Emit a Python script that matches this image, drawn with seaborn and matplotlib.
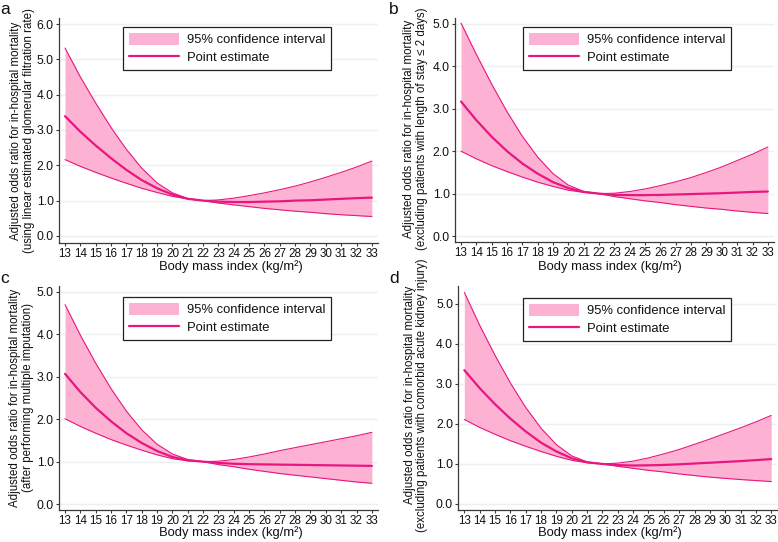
import matplotlib
matplotlib.use("Agg")
import matplotlib.pyplot as plt
import seaborn as sns
import pandas as pd
from matplotlib.patches import Patch
from matplotlib.lines import Line2D

# ---------------- data ----------------
bmi = list(range(13, 34))

a_point = [3.39, 2.95, 2.56, 2.20, 1.87, 1.58, 1.35, 1.17, 1.05, 1.00,
           0.97, 0.96, 0.96, 0.97, 0.98, 1.00, 1.01, 1.03, 1.05, 1.07, 1.085]
a_upper = [5.32, 4.50, 3.76, 3.07, 2.45, 1.92, 1.50, 1.22, 1.06, 1.00,
           1.02, 1.07, 1.14, 1.22, 1.31, 1.41, 1.53, 1.66, 1.80, 1.95, 2.12]
a_lower = [2.16, 1.97, 1.80, 1.64, 1.49, 1.35, 1.23, 1.12, 1.05, 1.00,
           0.93, 0.88, 0.83, 0.78, 0.74, 0.70, 0.67, 0.63, 0.60, 0.575, 0.55]

b_point = [3.17, 2.73, 2.34, 2.00, 1.71, 1.47, 1.27, 1.13, 1.04, 1.00,
           0.97, 0.965, 0.965, 0.97, 0.98, 0.99, 1.00, 1.01, 1.025, 1.04, 1.05]
b_upper = [5.02, 4.28, 3.58, 2.93, 2.35, 1.86, 1.47, 1.20, 1.05, 1.00,
           1.01, 1.05, 1.11, 1.19, 1.28, 1.38, 1.50, 1.63, 1.78, 1.93, 2.10]
b_lower = [2.00, 1.82, 1.66, 1.52, 1.39, 1.27, 1.17, 1.08, 1.03, 1.00,
           0.93, 0.88, 0.83, 0.79, 0.74, 0.70, 0.66, 0.63, 0.59, 0.56, 0.53]

c_point = [3.07, 2.64, 2.27, 1.95, 1.67, 1.44, 1.25, 1.11, 1.03, 1.00,
           0.97, 0.95, 0.94, 0.935, 0.93, 0.925, 0.92, 0.915, 0.91, 0.905, 0.90]
c_upper = [4.70, 3.98, 3.32, 2.72, 2.19, 1.75, 1.41, 1.18, 1.05, 1.00,
           1.01, 1.05, 1.11, 1.18, 1.26, 1.33, 1.40, 1.47, 1.54, 1.61, 1.69]
c_lower = [2.01, 1.83, 1.67, 1.52, 1.39, 1.27, 1.16, 1.07, 1.02, 1.00,
           0.93, 0.88, 0.82, 0.77, 0.72, 0.68, 0.64, 0.60, 0.56, 0.52, 0.49]

d_point = [3.34, 2.89, 2.49, 2.13, 1.81, 1.53, 1.31, 1.14, 1.04, 1.00,
           0.97, 0.96, 0.965, 0.975, 0.99, 1.01, 1.03, 1.05, 1.07, 1.095, 1.12]
d_upper = [5.28, 4.46, 3.71, 3.02, 2.41, 1.89, 1.48, 1.20, 1.05, 1.00,
           1.02, 1.07, 1.15, 1.25, 1.36, 1.49, 1.62, 1.76, 1.90, 2.05, 2.21]
d_lower = [2.11, 1.91, 1.74, 1.58, 1.44, 1.31, 1.19, 1.09, 1.03, 1.00,
           0.94, 0.89, 0.84, 0.80, 0.75, 0.71, 0.67, 0.64, 0.61, 0.585, 0.56]

panel_letters = ["a", "b", "c", "d"]
ylabels = [
    "Adjusted odds ratio for in-hospital mortality\n(using linear estimated glomerular filtration rate)",
    "Adjusted odds ratio for in-hospital mortality\n(excluding patients with length of stay \u2264 2 days)",
    "Adjusted odds ratio for in-hospital mortality\n(after performing multiple imputation)",
    "Adjusted odds ratio for in-hospital mortality\n(excluding patients with comorbid acute kidney injury)",
]
xlabel = "Body mass index (kg/m\u00b2)"
yticks_a = [0.0, 1.0, 2.0, 3.0, 4.0, 5.0, 6.0]
yticks_bcd = [0.0, 1.0, 2.0, 3.0, 4.0, 5.0]
legend_labels = ["95% confidence interval", "Point estimate"]

# ---------------- style ----------------
sns.set_theme(style="white")
plt.rcParams["font.family"] = ["Liberation Sans", "DejaVu Sans"]

W, H = 778, 542
fig = plt.figure(figsize=(W / 100, H / 100), dpi=100)

LINE = "#E8177F"
FILL = "#FDB2D3"
GRID = "#E9F1F3"
AXC = "#3a3a3a"

# axes boxes in pixels: left, right, top, bottom
boxes = [(58.9, 378.0, 18, 243), (454.9, 774.0, 18, 242),
         (58.9, 378.0, 286, 510), (458.2, 777.4, 286, 510)]
ylims = [(-0.2, 6.17), (-0.14, 5.14), (-0.14, 5.14), (-0.15, 5.44)]
series = [(a_point, a_lower, a_upper), (b_point, b_lower, b_upper),
          (c_point, c_lower, c_upper), (d_point, d_lower, d_upper)]
yticks_all = [yticks_a, yticks_bcd, yticks_bcd, yticks_bcd]
ylabel_pos = [(22.5, 131), (415.5, 129), (21.5, 398), (416, 395)]
xlabel_left = [159.3, 538, 159.3, 538]
xlabel_y = [266.5, 266.5, 533.0, 533.0]
letter_pos = [(0, 14), (389, 14), (0, 283), (389, 283)]
legend_pos = [(123, 27), (523, 27), (123, 297), (523, 298)]

for i in range(4):
    l, r, t, b = boxes[i]
    ax = fig.add_axes([l / W, 1 - b / H, (r - l) / W, (b - t) / H])
    pt, lo, up = series[i]
    df = pd.DataFrame({"bmi": bmi, "point": pt, "lower": lo, "upper": up})

    ax.fill_between(df["bmi"], df["lower"], df["upper"], color=FILL, lw=0, zorder=2)
    sns.lineplot(data=df, x="bmi", y="upper", ax=ax, color=LINE, lw=0.8, zorder=3)
    sns.lineplot(data=df, x="bmi", y="lower", ax=ax, color=LINE, lw=0.8, zorder=3)
    sns.lineplot(data=df, x="bmi", y="point", ax=ax, color=LINE, lw=1.6, zorder=4)

    ax.set_xlim(12.6, 33.4)
    ax.set_ylim(*ylims[i])
    ax.set_xticks(bmi)
    ax.set_xticklabels([str(v) for v in bmi])
    ax.set_yticks(yticks_all[i])
    ax.set_yticklabels([f"{v:.1f}" for v in yticks_all[i]])
    ax.set_xlabel("")
    ax.set_ylabel("")

    for yv in yticks_all[i]:
        ax.axhline(yv, color=GRID, lw=1.0, zorder=1)

    for s in ["top", "right"]:
        ax.spines[s].set_visible(False)
    for s in ["left", "bottom"]:
        ax.spines[s].set_color(AXC)
        ax.spines[s].set_linewidth(0.9)

    ax.tick_params(axis="both", which="major", direction="out", length=2.5,
                   width=0.8, color=AXC, pad=1.2,
                   labelcolor="#111111", left=True, bottom=True)
    ax.tick_params(axis="y", labelsize=8.8)
    ax.tick_params(axis="x", labelsize=8.4)

    handles = [Patch(facecolor=FILL, edgecolor="none"),
               Line2D([0], [0], color=LINE, lw=1.6)]
    lx, ly = legend_pos[i]
    leg = ax.legend(handles, legend_labels, loc="upper left",
                    bbox_to_anchor=(lx / W, 1 - ly / H),
                    bbox_transform=fig.transFigure, borderaxespad=0,
                    fontsize=9.4, handlelength=3.85, handleheight=1.0,
                    handletextpad=0.6, labelspacing=0.35, borderpad=0.45,
                    frameon=True, fancybox=False, framealpha=1)
    leg.get_frame().set_edgecolor("#222222")
    leg.get_frame().set_linewidth(0.9)
    for txt in leg.get_texts():
        txt.set_color("#111111")

    yx, yy = ylabel_pos[i]
    fig.text(yx / W, 1 - yy / H, ylabels[i], rotation=90, ha="center",
             va="center", multialignment="center", fontsize=8.3,
             linespacing=1.1, color="#111111")
    fig.text(xlabel_left[i] / W, 1 - xlabel_y[i] / H, xlabel, ha="left",
             va="center", fontsize=9.4, color="#111111")
    px, py = letter_pos[i]
    fig.text(px / W, 1 - py / H, panel_letters[i], ha="left", va="baseline",
             fontsize=12.5, color="#111111")

fig.savefig("out.png", dpi=100)
